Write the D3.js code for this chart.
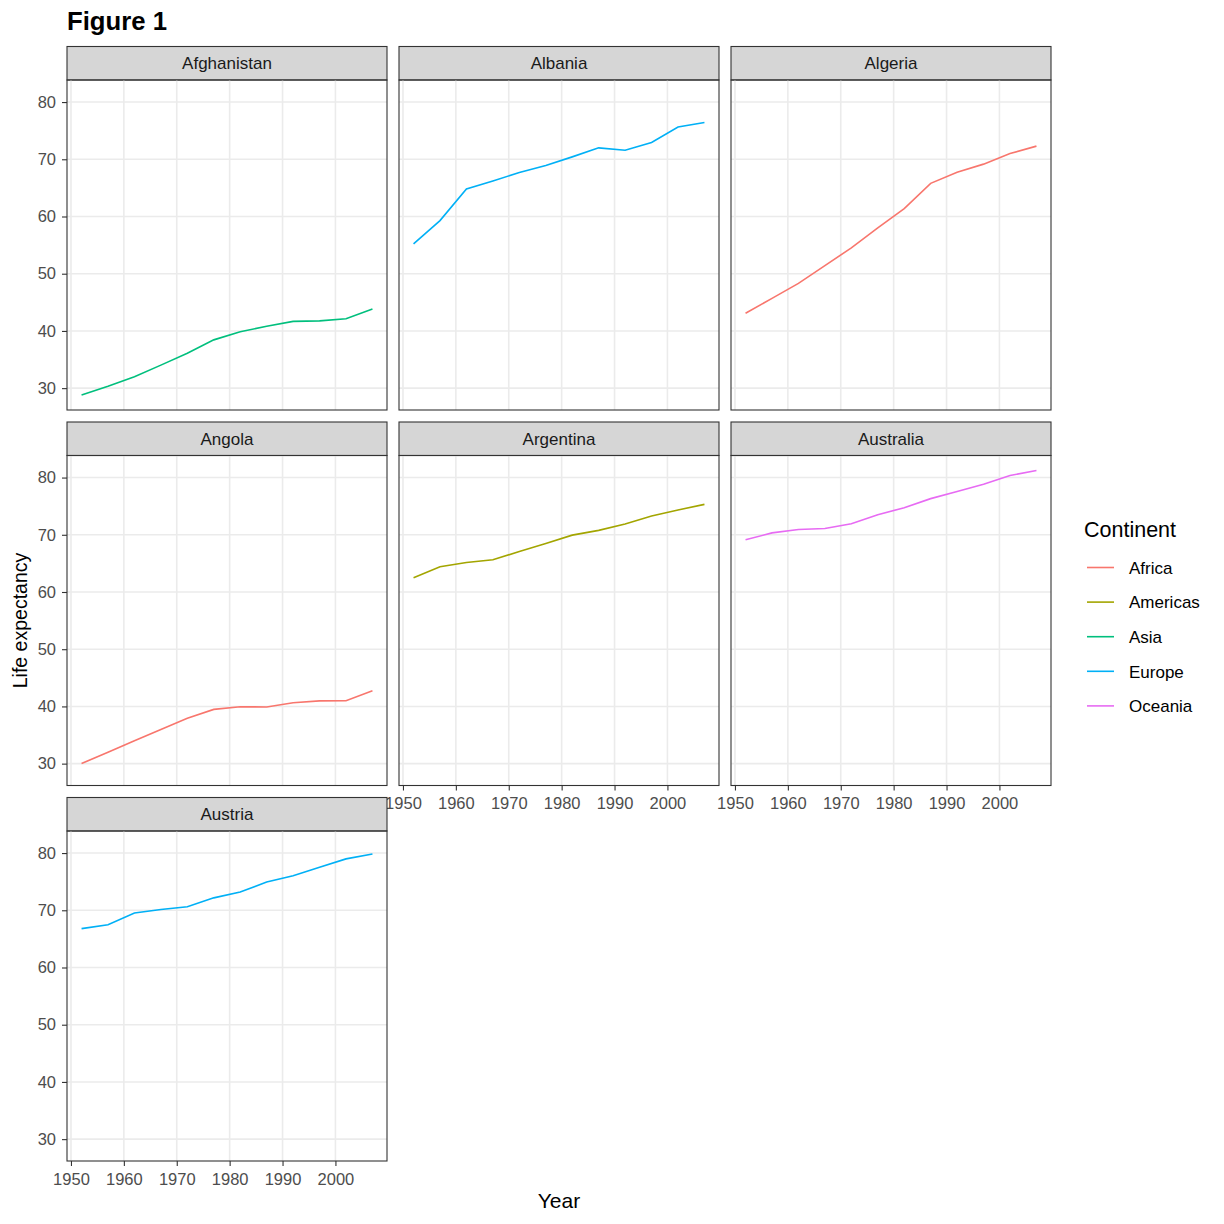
<!DOCTYPE html>
<html>
<head>
<meta charset="utf-8">
<script src="https://cdn.jsdelivr.net/npm/d3@7"></script>
<style>
  body { margin: 0; background: #fff; }
  svg { font-family: "Liberation Sans", Arial, Helvetica, sans-serif; }
</style>
</head>
<body>
<div id="chart"></div>
<script>
// gapminder life expectancy, 1952-2007
const years = [1952, 1957, 1962, 1967, 1972, 1977, 1982, 1987, 1992, 1997, 2002, 2007];
const countries = ['Afghanistan', 'Albania', 'Algeria', 'Angola', 'Argentina', 'Australia', 'Austria'];
const countryContinent = ['Asia', 'Europe', 'Africa', 'Africa', 'Americas', 'Oceania', 'Europe'];
const continents = ['Africa', 'Americas', 'Asia', 'Europe', 'Oceania'];
const continentColors = ['#F8766D', '#A3A500', '#00BF7D', '#00B0F6', '#E76BF3'];

const afghanistan = [28.801, 30.332, 31.997, 34.02, 36.088, 38.438, 39.854, 40.822, 41.674, 41.763, 42.129, 43.828];
const albania = [55.23, 59.28, 64.82, 66.22, 67.69, 68.93, 70.42, 72.0, 71.581, 72.95, 75.651, 76.423];
const algeria = [43.077, 45.685, 48.303, 51.407, 54.518, 58.014, 61.368, 65.799, 67.744, 69.152, 70.994, 72.301];
const angola = [30.015, 31.999, 34.0, 35.985, 37.928, 39.483, 39.942, 39.906, 40.647, 40.963, 41.003, 42.731];
const argentina = [62.485, 64.399, 65.142, 65.634, 67.065, 68.481, 69.942, 70.774, 71.868, 73.275, 74.34, 75.32];
const australia = [69.12, 70.33, 70.93, 71.1, 71.93, 73.49, 74.74, 76.32, 77.56, 78.83, 80.37, 81.235];
const austria = [66.8, 67.48, 69.54, 70.14, 70.63, 72.17, 73.18, 74.94, 76.04, 77.51, 78.98, 79.829];
const lifeExp = [afghanistan, albania, algeria, angola, argentina, australia, austria];

const xTicks = [1950, 1960, 1970, 1980, 1990, 2000];
const yTicks = [30, 40, 50, 60, 70, 80];

const W = 1224, H = 1224;
const nCols = 3;
const panelLeft = 67, panelW = 320, colGap = 12;
const stripTop = 46.5, stripH = 33.5, panelH = 330, rowGap = 12;
const tickFont = '16.5px';

const svg = d3.select('#chart').append('svg')
  .attr('width', W).attr('height', H);

// shared scales (ggplot default 5% expansion)
const allVals = lifeExp.flat();
const yMin = d3.min(allVals), yMax = d3.max(allVals);
const yPad = (yMax - yMin) * 0.05;
const xPad = (d3.max(years) - d3.min(years)) * 0.05;

const x = d3.scaleLinear()
  .domain([d3.min(years) - xPad, d3.max(years) + xPad])
  .range([0, panelW]);
const y = d3.scaleLinear()
  .domain([yMin - yPad, yMax + yPad])
  .range([panelH, 0]);

const color = d3.scaleOrdinal().domain(continents).range(continentColors);

// title
svg.append('text')
  .attr('x', 67).attr('y', 30)
  .style('font-size', '25.7px').style('font-weight', 'bold')
  .text('Figure 1');

const nRows = Math.ceil(countries.length / nCols);

countries.forEach((name, i) => {
  const col = i % nCols, row = Math.floor(i / nCols);
  const px = panelLeft + col * (panelW + colGap);
  const sy = stripTop + row * (stripH + panelH + rowGap);
  const py = sy + stripH;

  // strip
  svg.append('rect')
    .attr('x', px).attr('y', sy).attr('width', panelW).attr('height', stripH)
    .attr('fill', '#D6D6D6').attr('stroke', '#333333').attr('stroke-width', 1.1);
  svg.append('text')
    .attr('x', px + panelW / 2).attr('y', sy + stripH / 2 + 6)
    .attr('text-anchor', 'middle')
    .style('font-size', '17px').attr('fill', '#1A1A1A')
    .text(name);

  const g = svg.append('g').attr('transform', `translate(${px},${py})`);

  // grid
  g.selectAll('.vgrid').data(xTicks).enter().append('line')
    .attr('x1', d => x(d)).attr('x2', d => x(d))
    .attr('y1', 0).attr('y2', panelH)
    .attr('stroke', '#EBEBEB').attr('stroke-width', 1.6);
  g.selectAll('.hgrid').data(yTicks).enter().append('line')
    .attr('x1', 0).attr('x2', panelW)
    .attr('y1', d => y(d)).attr('y2', d => y(d))
    .attr('stroke', '#EBEBEB').attr('stroke-width', 1.6);

  // series line
  const pts = years.map((yr, k) => ({ year: yr, value: lifeExp[i][k] }));
  g.append('path')
    .datum(pts)
    .attr('fill', 'none')
    .attr('stroke', color(countryContinent[i]))
    .attr('stroke-width', 1.6)
    .attr('d', d3.line().x(d => x(d.year)).y(d => y(d.value)));

  // panel border
  g.append('rect')
    .attr('width', panelW).attr('height', panelH)
    .attr('fill', 'none').attr('stroke', '#333333').attr('stroke-width', 1.1);

  // y axis on first column
  if (col === 0) {
    const ya = g.append('g')
      .call(d3.axisLeft(y).tickValues(yTicks).tickSize(5).tickPadding(6));
    ya.select('.domain').remove();
    ya.selectAll('line').attr('stroke', '#333333').attr('stroke-width', 1.1);
    ya.selectAll('text').attr('fill', '#4D4D4D').style('font-size', tickFont)
      .style('font-family', '"Liberation Sans", Arial, sans-serif');
  }

  // x axis on the lowest panel of each column
  const belowIdx = i + nCols;
  if (belowIdx >= countries.length) {
    const xa = g.append('g').attr('transform', `translate(0,${panelH})`)
      .call(d3.axisBottom(x).tickValues(xTicks).tickFormat(d3.format('d')).tickSize(5).tickPadding(7));
    xa.select('.domain').remove();
    xa.selectAll('line').attr('stroke', '#333333').attr('stroke-width', 1.1);
    xa.selectAll('text').attr('fill', '#4D4D4D').style('font-size', tickFont)
      .style('font-family', '"Liberation Sans", Arial, sans-serif');
  }
});

// axis titles
const plotBottom = stripTop + nRows * (stripH + panelH) + (nRows - 1) * rowGap;
svg.append('text')
  .attr('transform', `translate(26.5,${(stripTop + stripH + plotBottom) / 2}) rotate(-90)`)
  .attr('text-anchor', 'middle')
  .style('font-size', '19.5px')
  .text('Life expectancy');
svg.append('text')
  .attr('x', panelLeft + (nCols * panelW + (nCols - 1) * colGap) / 2)
  .attr('y', 1208)
  .attr('text-anchor', 'middle')
  .style('font-size', '21px')
  .text('Year');

// legend
const lg = svg.append('g').attr('transform', 'translate(1084,0)');
lg.append('text')
  .attr('x', 0).attr('y', 537)
  .style('font-size', '21.5px')
  .text('Continent');
continents.forEach((c, k) => {
  const cy = 567.5 + k * 34.6;
  lg.append('line')
    .attr('x1', 3).attr('x2', 30).attr('y1', cy).attr('y2', cy)
    .attr('stroke', color(c)).attr('stroke-width', 1.6);
  lg.append('text')
    .attr('x', 45).attr('y', cy + 6.2)
    .style('font-size', '17px')
    .text(c);
});
</script>
</body>
</html>
